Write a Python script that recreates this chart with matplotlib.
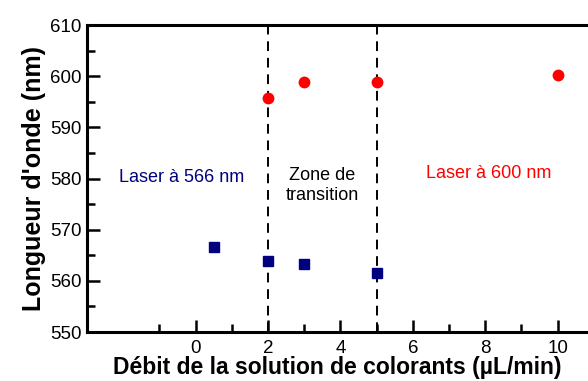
import matplotlib.pyplot as plt
from matplotlib.ticker import MultipleLocator

plt.rcParams['font.family'] = ['Liberation Sans', 'DejaVu Sans']

# flow rate (uL/min) and emission wavelength (nm)
debit_566 = [0.5, 2, 3, 5]
lambda_566 = [566.6, 563.9, 563.3, 561.6]
debit_600 = [2, 3, 5, 10]
lambda_600 = [595.7, 598.9, 598.9, 600.3]
transitions = [2, 5]

fig = plt.figure(figsize=(5.88, 3.81), dpi=100)
ax = fig.add_axes([0.148, 0.1286, 0.852, 0.8054])

ax.plot(debit_566, lambda_566, 's', color='#000080', markersize=6.5, linestyle='none', zorder=3)
ax.plot(debit_600, lambda_600, 'o', color='red', markersize=7.5, linestyle='none', zorder=3)
for xv in transitions:
    ax.axvline(xv, color='black', linestyle=(0, (5, 3.5)), linewidth=1.4, zorder=2)

ax.text(-0.4, 580.3, 'Laser à 566 nm', color='#000080', fontsize=13, ha='center', va='center')
ax.text(3.5, 578.6, 'Zone de\ntransition', color='black', fontsize=13, ha='center', va='center',
        linespacing=1.2)
ax.text(8.1, 581, 'Laser à 600 nm', color='red', fontsize=13, ha='center', va='center')

ax.set_xlim(-3, 10.84)
ax.set_ylim(550, 610)
ax.set_xticks([0, 2, 4, 6, 8, 10])
ax.set_xticks([-1, 1, 3, 5, 7, 9], minor=True)
ax.yaxis.set_major_locator(MultipleLocator(10))
ax.yaxis.set_minor_locator(MultipleLocator(5))

ax.spines['right'].set_visible(False)
for s in ['left', 'bottom', 'top']:
    ax.spines[s].set_linewidth(2.2)
ax.tick_params(which='major', direction='in', length=9, width=1.8, labelsize=13.5, pad=4)
ax.tick_params(which='minor', direction='in', length=5.5, width=1.8)
ax.tick_params(axis='x', which='both', top=False)
ax.tick_params(axis='x', which='major', pad=6)

ax.set_xlabel('Débit de la solution de colorants (µL/min)', fontsize=16.5, fontweight='bold', labelpad=-1)
ax.set_ylabel("Longueur d'onde (nm)", fontsize=18, fontweight='bold', labelpad=3)

fig.savefig('out.png', dpi=100)
